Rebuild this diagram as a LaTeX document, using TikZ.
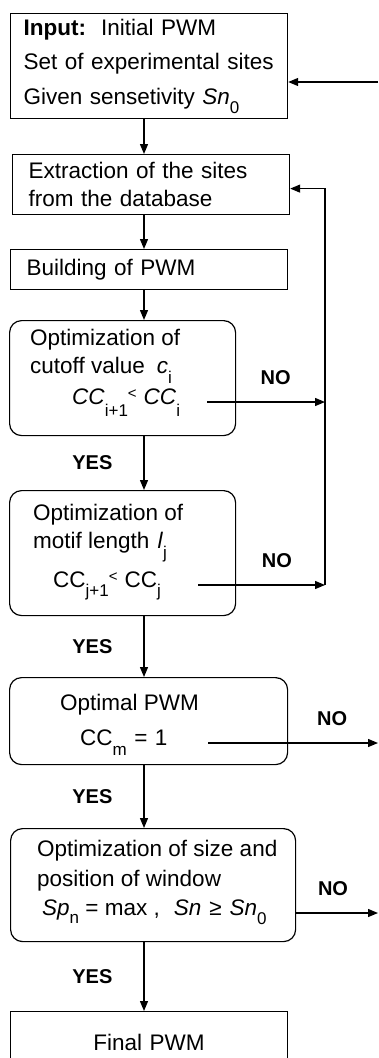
\documentclass[tikz,border=0pt]{standalone}
\usepackage{fontspec}
\setmainfont{Liberation Sans}
\usetikzlibrary{arrows.meta, positioning}
\newcommand\lowidx[2][10pt]{\raisebox{-#1}{\fontsize{17}{17}\selectfont #2}}
\newcommand\smlt{\raisebox{6pt}{\fontsize{15}{15}\selectfont<}}
\tikzset{
  box/.style={rectangle, draw, line width=1.2pt, anchor=north west,
              inner xsep=16pt, inner ysep=0pt, align=left,
              font=\fontsize{22.5}{28}\selectfont},
  rbox/.style={rectangle, rounded corners=12pt, draw, line width=1.2pt,
               anchor=north west, inner sep=0pt},
  txt/.style={anchor=north west, inner sep=0pt, align=left,
              font=\fontsize{22.5}{28}\selectfont},
  cond/.style={anchor=mid west, inner sep=0pt, align=left,
               font=\fontsize{22.5}{28}\selectfont},
  arr/.style={-{Triangle[length=10pt, width=8pt]}, line width=1.3pt},
  yes/.style={font=\fontsize{20}{20}\selectfont\bfseries, inner sep=0pt, left=31pt},
  no/.style={font=\fontsize{20}{20}\selectfont\bfseries, inner sep=0pt, above=17pt},
}
\begin{document}
\begin{tikzpicture}[x=1pt, y=-1pt]
      \clip (0,0) rectangle (378,1058);
      \node[box, inner xsep=13pt, text width=251pt, minimum height=105pt,
            font=\fontsize{22.5}{34.5}\selectfont] (in) at (10,13)
           {\textbf{Input:}~~Initial PWM\\Set of experimental sites\\Given sensetivity~\textit{Sn}\lowidx[9pt]{0}};
      \node[box, text width=245pt, minimum height=60pt] (ext) at (12,154)
           {Extraction of the sites\\from the database};
      \node[box, text width=245pt, minimum height=40pt] (bld) at (10,249) {Building of PWM};

      \node[rbox, minimum width=226pt, minimum height=115pt] (cut) at (9,320) {};
      \node[txt] (cutT) at (30,328.5) {Optimization of\\cutoff value\hspace{12pt}\textit{c}\lowidx{i}};
      \node[cond, text width=135pt] (cutC) at (72,402)
           {\textit{CC}\lowidx[12pt]{i+1}\smlt\hspace{7pt}\textit{CC}\lowidx[12pt]{i}};

      \node[rbox, minimum width=226pt, minimum height=125pt] (mot) at (9,490) {};
      \node[txt] (motT) at (33,503.5) {Optimization of\\motif length\hspace{8pt}\textit{l}\lowidx{j}};
      \node[cond, text width=145pt] (motC) at (53,585)
           {CC\lowidx[9pt]{j+1}\smlt\hspace{7pt}CC\lowidx[9pt]{j}};

      \node[rbox, minimum width=278pt, minimum height=87pt] (opt) at (9,677) {};
      \node[cond] (optT) at (60,708) {Optimal PWM};
      \node[cond, text width=128pt] (optC) at (80,743) {CC\lowidx{m} = 1};

      \node[rbox, minimum width=285pt, minimum height=113pt] (win) at (10,828) {};
      \node[txt, font=\fontsize{22.5}{30}\selectfont] (winT) at (37,839.5)
           {Optimization of size and\\position of window};
      \node[cond] (winC) at (42,913)
           {\textit{Sp}\lowidx[8pt]{n} = max ,\hspace{14pt}\textit{Sn}\hspace{8pt}≥\hspace{8pt}\textit{Sn}\lowidx[9pt]{0}};

      \node[box, text width=245pt, minimum height=62pt, align=center] (fin) at (10,1011) {Final PWM};

      \coordinate (spine) at (144,0);
      \coordinate (loop) at (325,0);
      \coordinate (rim) at (378,0);
      \coordinate (inR) at (378,82);

      \draw[arr] (in.south -| spine) -- (ext.north -| spine);
      \draw[arr] (ext.south -| spine) -- (bld.north -| spine);
      \draw[arr] (bld.south -| spine) -- (cut.north -| spine);
      \draw[arr] (cut.south -| spine) -- node[yes] {YES} (mot.north -| spine);
      \draw[arr] (mot.south -| spine) -- node[yes] {YES} (opt.north -| spine);
      \draw[arr] (opt.south -| spine) -- node[yes] {YES} (win.north -| spine);
      \draw[arr] (win.south -| spine) -- node[yes] {YES} (fin.north -| spine);

      \draw[arr] (cutC.mid east) -- node[no, pos=0.58] {NO} (cutC.mid east -| loop);
      \draw[arr] (motC.mid east) -- node[no, pos=0.62] {NO} (motC.mid east -| loop);
      \draw[arr] (motC.mid east -| loop) |- ([yshift=-4pt]ext.east);
      \draw[arr] (inR) -- (inR -| in.east);
      \draw[arr] (optC.mid east) -- node[no, pos=0.73] {NO} (optC.mid east -| rim);
      \draw[arr] (win.east |- winC.mid west) -- node[no, pos=0.45] {NO} (winC.mid west -| rim);
    \end{tikzpicture}
\end{document}
